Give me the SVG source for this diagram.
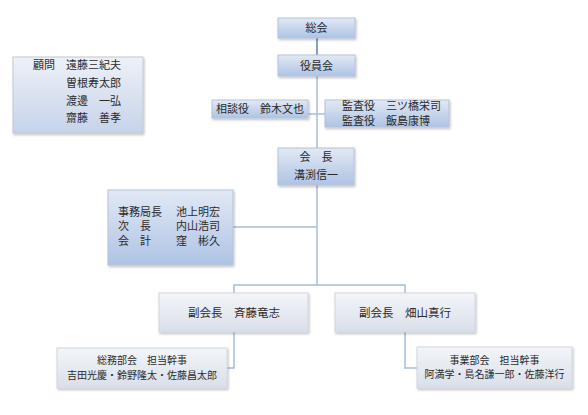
<svg xmlns="http://www.w3.org/2000/svg" width="588" height="415" viewBox="0 0 588 415">
<defs>
<linearGradient id="gb" x1="0" y1="0" x2="0" y2="1"><stop offset="0" stop-color="#e2e9f5"/><stop offset="1" stop-color="#aec3e4"/></linearGradient>
<linearGradient id="gg" x1="0" y1="0" x2="0" y2="1"><stop offset="0" stop-color="#f3f5f9"/><stop offset="1" stop-color="#d9dfe9"/></linearGradient>
<linearGradient id="gk" x1="0" y1="0" x2="0" y2="1"><stop offset="0" stop-color="#eef1f7"/><stop offset="1" stop-color="#c6d3ea"/></linearGradient>
<filter id="sh" x="-10%" y="-10%" width="130%" height="140%"><feDropShadow dx="1" dy="1.5" stdDeviation="1" flood-color="#000" flood-opacity="0.25"/></filter>
</defs>
<style>
.b{fill:url(#gb);stroke:#b5c3d9;stroke-width:1;filter:url(#sh)}
.g{fill:url(#gg);stroke:#d0d6e0;stroke-width:1;filter:url(#sh)}
.k{fill:url(#gk);stroke:#c4c8cf;stroke-width:1;filter:url(#sh)}
text{font-family:"Noto Sans CJK JP","Noto Sans CJK SC",sans-serif;fill:#2a2a2a;font-size:11px}
.c{text-anchor:middle}
.s{font-size:10px}
.ln{fill:none;stroke:#a9bcda;stroke-width:1.5}
.ld{fill:none;stroke:#5b80b8;stroke-width:1.5}
</style>
<rect width="588" height="415" fill="#fff"/>
<g id="connectors">
<path class="ld" d="M317 38V55"/>
<path class="ln" d="M317 76V285"/>
<path class="ln" d="M308 114H325"/>
<path class="ln" d="M233 227H317"/>
<path class="ln" d="M234 293V285H405V293"/>
<path class="ln" d="M234 332V368H227"/>
<path class="ln" d="M405 332V368H417"/>
</g>
<g id="komon">
<rect class="k" x="13" y="57" width="130" height="76"/>
<text x="33" y="69">顧問</text>
<text x="66" y="69">遠藤三紀夫</text>
<text x="66" y="87">曽根寿太郎</text>
<text x="66" y="105">渡邊　一弘</text>
<text x="66" y="122">齋藤　善孝</text>
</g>
<g id="sokai">
<rect class="b" x="278" y="18" width="77" height="20"/>
<text class="c" x="316.5" y="32">総会</text>
</g>
<g id="yakuinkai">
<rect class="b" x="278" y="55" width="77" height="21"/>
<text class="c" x="316.5" y="69.5">役員会</text>
</g>
<g id="sodanyaku">
<rect class="b" x="212" y="100" width="96" height="18"/>
<text class="c" x="260" y="113">相談役　鈴木文也</text>
</g>
<g id="kansayaku">
<rect class="b" x="325" y="100" width="124" height="27"/>
<text x="342" y="110">監査役　三ツ橋栄司</text>
<text x="342" y="124.5">監査役　飯島康博</text>
</g>
<g id="kaicho">
<rect class="b" x="278" y="148" width="76" height="37"/>
<text class="c" x="316" y="161">会　長</text>
<text class="c" x="316" y="179">溝渕信一</text>
</g>
<g id="jimukyoku">
<rect class="b" x="108" y="190" width="125" height="75"/>
<text x="118" y="215.5">事務局長</text>
<text x="176" y="215.5">池上明宏</text>
<text x="118" y="230">次　長</text>
<text x="176" y="230">内山浩司</text>
<text x="118" y="244.5">会　計</text>
<text x="176" y="244.5">窪　彬久</text>
</g>
<g id="fukukaicho1">
<rect class="g" x="159" y="293" width="149" height="39"/>
<text class="c" x="234" y="317" style="font-size:11.5px">副会長　斉藤竜志</text>
</g>
<g id="fukukaicho2">
<rect class="g" x="335" y="293" width="140" height="39"/>
<text class="c" x="405" y="317" style="font-size:11.5px">副会長　畑山真行</text>
</g>
<g id="somubukai">
<rect class="g" x="57" y="348" width="170" height="40"/>
<text class="c s" x="142" y="364">総務部会　担当幹事</text>
<text class="c s" x="142" y="379">吉田光慶・鈴野隆太・佐藤昌太郎</text>
</g>
<g id="jigyobukai">
<rect class="g" x="417" y="347" width="155" height="41"/>
<text class="c s" x="494.5" y="364">事業部会　担当幹事</text>
<text class="c s" x="494.5" y="378">阿満学・島名謙一郎・佐藤洋行</text>
</g>
</svg>
